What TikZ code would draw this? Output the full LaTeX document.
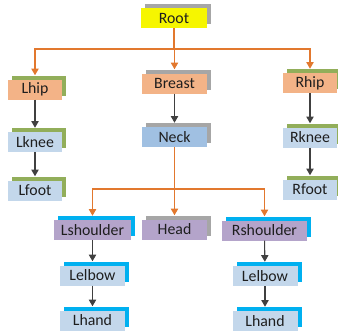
\documentclass[tikz,border=0pt]{standalone}
\usepackage{fontspec}
\setmainfont{Carlito}
\usetikzlibrary{shadows, arrows.meta, calc}
\definecolor{rootfill}{HTML}{F6F600}
\definecolor{peach}{HTML}{F3B387}
\definecolor{paleblue}{HTML}{C3D7EB}
\definecolor{neckblue}{HTML}{A0C0E2}
\definecolor{lilac}{HTML}{B4A4CA}
\definecolor{shadowgray}{HTML}{A6A6A6}
\definecolor{olive}{HTML}{92AE5A}
\definecolor{skyblue}{HTML}{00B0F0}
\definecolor{linkorange}{HTML}{E2782E}
\definecolor{linkgray}{HTML}{404040}
\definecolor{textgray}{HTML}{1E1E1E}

\begin{document}
\begin{tikzpicture}[x=0.03cm, y=-0.03cm,
    joint/.style={rectangle, minimum height=0.6cm, inner sep=0pt, text=textgray,
      font=\fontsize{13.5}{15}\selectfont},
    grayshadow/.style={general shadow={fill=shadowgray, shadow xshift=0.13cm, shadow yshift=0.12cm}},
    oliveshadow/.style={general shadow={fill=olive, shadow xshift=0.13cm, shadow yshift=0.12cm}},
    skyshadow/.style={general shadow={fill=skyblue, shadow xshift=0.13cm, shadow yshift=0.12cm}},
    legw/.style={minimum width=1.62cm},
    spinew/.style={minimum width=1.95cm},
    orangeline/.style={draw=linkorange, line width=0.9pt},
    orangearrow/.style={orangeline, -{Triangle[length=0.2cm, width=0.22cm]}, shorten >=0.12cm},
    grayarrow/.style={draw=linkgray, line width=0.9pt, -{Triangle[length=0.2cm, width=0.22cm]}, shorten >=0.12cm}]
    \useasboundingbox (0,0) rectangle (338,330);
    % Spine
    \node[joint, grayshadow, fill=rootfill, minimum width=1.98cm] (root) at (174,18) {Root};
    \node[joint, grayshadow, fill=peach, spinew] (breast) at (174.5,83.5) {Breast};
    \node[joint, grayshadow, fill=neckblue, spinew] (neck) at (174.5,137) {Neck};
    \node[joint, grayshadow, fill=lilac, spinew] (head) at (174.5,229.5) {Head};
    % Left leg
    \node[joint, oliveshadow, fill=peach, legw] (lhip) at (35,89.5) {Lhip};
    \node[joint, oliveshadow, fill=paleblue, legw] (lknee) at (35,142) {Lknee};
    \node[joint, oliveshadow, fill=paleblue, legw] (lfoot) at (35,190.5) {Lfoot};
    % Right leg
    \node[joint, oliveshadow, fill=peach, legw] (rhip) at (310,83) {Rhip};
    \node[joint, oliveshadow, fill=paleblue, legw] (rknee) at (310,137.5) {Rknee};
    \node[joint, oliveshadow, fill=paleblue, legw] (rfoot) at (310,189.5) {Rfoot};
    % Left arm
    \node[joint, skyshadow, fill=lilac, minimum width=2.31cm] (lshoulder) at (92.5,230) {Lshoulder};
    \node[joint, skyshadow, fill=paleblue, spinew] (lelbow) at (92.5,275.5) {Lelbow};
    \node[joint, skyshadow, fill=paleblue, spinew] (lhand) at (92.5,320.5) {Lhand};
    % Right arm
    \node[joint, skyshadow, fill=lilac, minimum width=2.55cm] (rshoulder) at (264.5,230.5) {Rshoulder};
    \node[joint, skyshadow, fill=paleblue, spinew] (relbow) at (265,276) {Lelbow};
    \node[joint, skyshadow, fill=paleblue, spinew] (rhand) at (265,321) {Lhand};
    % Branches from root and neck
    \coordinate (rootbus) at (174,49);
    \coordinate (neckbus) at (174.5,189);
    \draw[orangeline] (root) -- (rootbus);
    \draw[orangeline] (neck) -- (neckbus);
    \foreach \n in {lhip, breast, rhip}
      \draw[orangearrow] (rootbus) -| (\n);
    \foreach \n in {lshoulder, head, rshoulder}
      \draw[orangearrow] (neckbus) -| (\n);
    % Chains
    \foreach \a/\b in {breast/neck, lhip/lknee, lknee/lfoot, rhip/rknee, rknee/rfoot,
                       lshoulder/lelbow, lelbow/lhand, rshoulder/relbow, relbow/rhand}
      \draw[grayarrow] (\a) -- (\b);
\end{tikzpicture}
\end{document}
